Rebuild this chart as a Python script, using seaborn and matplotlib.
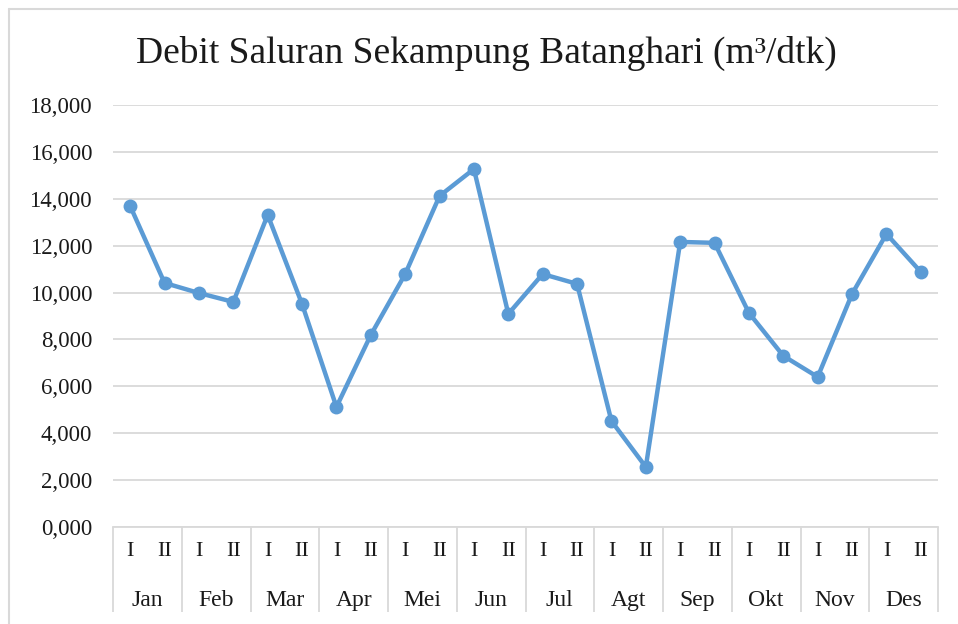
import numpy as np
import pandas as pd
import matplotlib
matplotlib.use("Agg")
import matplotlib.pyplot as plt
import seaborn as sns
from matplotlib.transforms import blended_transform_factory
from matplotlib.ticker import FuncFormatter

sns.set_style("white")
plt.rcParams['font.family'] = ['Liberation Serif', 'DejaVu Serif']
plt.rcParams['text.color'] = '#1a1a1a'
plt.rcParams['xtick.color'] = '#1a1a1a'
plt.rcParams['ytick.color'] = '#1a1a1a'

# data
months = ["Jan", "Feb", "Mar", "Apr", "Mei", "Jun", "Jul", "Agt", "Sep", "Okt", "Nov", "Des"]
periods = ["I", "II"]
debit = [13.69, 10.41, 9.98, 9.60, 13.31, 9.51, 5.12, 8.19, 10.79, 14.12, 15.27, 9.09,
         10.79, 10.37, 4.52, 2.56, 12.16, 12.12, 9.13, 7.30, 6.40, 9.94, 12.50, 10.88]
y_ticks = [0, 2, 4, 6, 8, 10, 12, 14, 16, 18]

df = pd.DataFrame({
    "pos": np.arange(len(debit)),
    "bulan": np.repeat(months, 2),
    "periode": periods * len(months),
    "debit": debit,
})

line_color = "#5B9BD5"
grid_color = "#D9D9D9"

fig = plt.figure(figsize=(9.58, 6.24), dpi=100)
ax = fig.add_axes([113 / 958, 1 - 527 / 624, (938 - 113) / 958, (527 - 105) / 624])

sns.lineplot(data=df, x="pos", y="debit", ax=ax, color=line_color, linewidth=3.2,
             marker="o", markersize=10, markeredgewidth=0, zorder=3)

ax.set_xlim(-0.5, len(debit) - 0.5)
ax.set_ylim(0, 18)
ax.set_yticks(y_ticks)
ax.yaxis.set_major_formatter(FuncFormatter(lambda v, p: f"{v:.3f}".replace(".", ",")))
ax.grid(axis="y", color=grid_color, linewidth=1.3)
ax.set_axisbelow(True)
for s in ["top", "right", "left"]:
    ax.spines[s].set_visible(False)
ax.spines["bottom"].set_color(grid_color)
ax.spines["bottom"].set_linewidth(1.3)
ax.tick_params(axis="y", length=0, pad=15, labelsize=16.5)

# two-level category axis
ax.set_xticks(df["pos"])
ax.set_xticklabels(df["periode"], fontsize=16)
ax.tick_params(axis="x", length=0, pad=11)
ax.set_xlabel("")
ax.set_ylabel("")

trans = blended_transform_factory(ax.transData, ax.transAxes)
for i, m in enumerate(months):
    ax.text(2 * i + 0.5, -0.175, m, transform=trans, ha="center", va="center",
            fontsize=17, clip_on=False)
seps = np.arange(len(months) + 1) * 2 - 0.5
ax.vlines(seps, -0.202, 0, transform=trans, colors=grid_color, linewidth=1.3, clip_on=False)

fig.text(486 / 958, 1 - 53 / 624, "Debit Saluran Sekampung Batanghari (m³/dtk)",
         ha="center", va="center", fontsize=27)

# chart frame
fig.add_artist(plt.Line2D([9 / 958, 9 / 958], [0, 1 - 9 / 624], transform=fig.transFigure,
                          color=grid_color, linewidth=1.5))
fig.add_artist(plt.Line2D([9 / 958, 1], [1 - 9 / 624, 1 - 9 / 624], transform=fig.transFigure,
                          color=grid_color, linewidth=1.5))

fig.savefig("out.png", dpi=100)
